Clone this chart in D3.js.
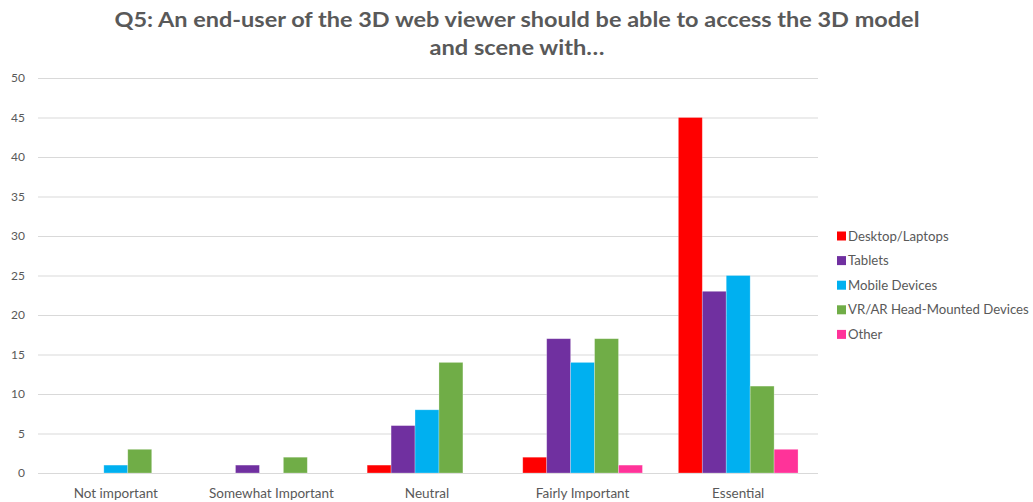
<!DOCTYPE html>
<html>
<head>
<meta charset="utf-8">
<script src="https://cdn.jsdelivr.net/npm/d3@7"></script>
<style>
  html, body { margin: 0; padding: 0; background: #fff; }
  svg { display: block; font-family: Lato, "Open Sans", "DejaVu Sans", sans-serif; }
</style>
</head>
<body>
<svg id="chart" width="1033" height="502"></svg>
<script>
// Response categories (x axis)
const categories = ["Not important", "Somewhat Important", "Neutral", "Fairly Important", "Essential"];
// Device series
const seriesNames = ["Desktop/Laptops", "Tablets", "Mobile Devices", "VR/AR Head-Mounted Devices", "Other"];
const seriesColors = ["#FF0000", "#7030A0", "#00B0F0", "#70AD47", "#FF3399"];
// Counts per series, one value per category
const desktopLaptops = [0, 0, 1, 2, 45];
const tablets        = [0, 1, 6, 17, 23];
const mobileDevices  = [1, 0, 8, 14, 25];
const vrArHeadsets   = [3, 2, 14, 17, 11];
const other          = [0, 0, 0, 1, 3];
const yTicks = [0, 5, 10, 15, 20, 25, 30, 35, 40, 45, 50];

const seriesValues = [desktopLaptops, tablets, mobileDevices, vrArHeadsets, other];

const svg = d3.select("#chart");
const plot = { left: 38, right: 816, top: 78, bottom: 473 };

const x0 = d3.scaleBand().domain(categories).range([plot.left, plot.right]).paddingInner(0.2308).paddingOuter(0.1154);
const x1 = d3.scaleBand().domain(seriesNames).range([0, x0.bandwidth()]);
const y = d3.scaleLinear().domain([0, 50]).range([plot.bottom, plot.top]);

// Title
const title = svg.append("text")
  .attr("x", 517).attr("text-anchor", "middle")
  .attr("fill", "#595959").attr("font-weight", "bold").attr("font-size", 21);
title.append("tspan").attr("x", 517).attr("y", 27)
  .attr("textLength", 805).attr("lengthAdjust", "spacingAndGlyphs")
  .text("Q5: An end-user of the 3D web viewer should be able to access the 3D model");
title.append("tspan").attr("x", 517).attr("y", 55)
  .attr("textLength", 175).attr("lengthAdjust", "spacingAndGlyphs")
  .text("and scene with…");

// Gridlines
svg.append("g").selectAll("line").data(yTicks).join("line")
  .attr("x1", plot.left).attr("x2", 818)
  .attr("y1", d => y(d) + 0.5).attr("y2", d => y(d) + 0.5)
  .attr("stroke", "#d9d9d9").attr("stroke-width", 1);

// Y axis labels
const yAxis = svg.append("g").attr("transform", `translate(${plot.left - 13},0)`)
  .call(d3.axisLeft(y).tickValues(yTicks).tickSize(0).tickPadding(0));
yAxis.select(".domain").remove();
yAxis.selectAll("text").attr("fill", "#595959").attr("font-size", 12)
  .attr("font-family", "Lato, 'Open Sans', sans-serif");

// X axis labels
const xAxis = svg.append("g").attr("transform", `translate(0,${plot.bottom})`)
  .call(d3.axisBottom(x0).tickSize(0).tickPadding(15));
xAxis.select(".domain").remove();
xAxis.selectAll("text").attr("fill", "#595959").attr("font-size", 13.5)
  .attr("font-family", "Lato, 'Open Sans', sans-serif");

// Bars
const groups = svg.append("g").selectAll("g").data(categories).join("g")
  .attr("transform", d => `translate(${x0(d)},0)`);
groups.selectAll("rect")
  .data((c, ci) => seriesNames.map((s, si) => ({ s, si, v: seriesValues[si][ci] })))
  .join("rect")
  .filter(d => d.v > 0)
  .attr("x", d => x1(d.s))
  .attr("y", d => y(d.v))
  .attr("width", x1.bandwidth())
  .attr("height", d => y(0) - y(d.v))
  .attr("fill", d => seriesColors[d.si])
  .attr("stroke", "#ffffff").attr("stroke-opacity", 0.35).attr("stroke-width", 0.75);

// Legend
const legend = svg.append("g").attr("transform", "translate(837,236)");
const items = legend.selectAll("g").data(seriesNames).join("g")
  .attr("transform", (d, i) => `translate(0,${i * 24.6})`);
items.append("rect").attr("x", 0).attr("y", -4.5).attr("width", 9).attr("height", 9)
  .attr("fill", (d, i) => seriesColors[i]);
items.append("text").attr("x", 11).attr("y", 0).attr("dy", "0.35em")
  .attr("fill", "#595959").attr("font-size", 13.2)
  .text(d => d);
</script>
</body>
</html>
